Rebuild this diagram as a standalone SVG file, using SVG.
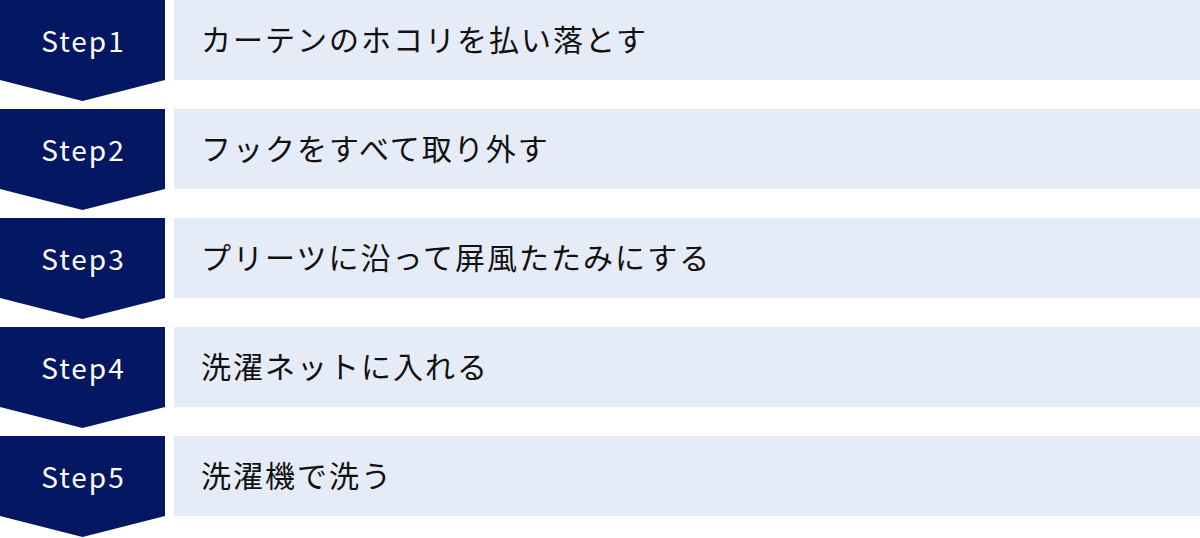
<svg xmlns="http://www.w3.org/2000/svg" width="1200" height="538" viewBox="0 0 1200 538">
<defs>
<style>
.badge{fill:#041762;}
.bar{fill:#e6ebf8;}
.step{font-family:"Noto Sans CJK JP","Noto Sans",sans-serif;font-size:28px;fill:#ffffff;text-anchor:middle;letter-spacing:2px;}
.label{font-family:"Noto Sans CJK JP","Noto Sans",sans-serif;font-size:30px;fill:#111111;letter-spacing:2px;}
</style>
<path id="chev" d="M0 0H165V80L82.5 101L0 80Z"/>
</defs>
<rect width="1200" height="538" fill="#ffffff"/>
<g id="connectors"></g>
<g id="step1">
<use href="#chev" class="badge" y="0"/>
<rect class="bar" x="174" y="0" width="1026" height="80"/>
<text class="step" x="83.5" y="52">Step1</text>
<text class="label" x="201" y="51">カーテンのホコリを払い落とす</text>
</g>
<g id="step2" transform="translate(0,109)">
<use href="#chev" class="badge"/>
<rect class="bar" x="174" y="0" width="1026" height="80"/>
<text class="step" x="83.5" y="52">Step2</text>
<text class="label" x="201" y="51">フックをすべて取り外す</text>
</g>
<g id="step3" transform="translate(0,218)">
<use href="#chev" class="badge"/>
<rect class="bar" x="174" y="0" width="1026" height="80"/>
<text class="step" x="83.5" y="52">Step3</text>
<text class="label" x="201" y="51">プリーツに沿って屏風たたみにする</text>
</g>
<g id="step4" transform="translate(0,327)">
<use href="#chev" class="badge"/>
<rect class="bar" x="174" y="0" width="1026" height="80"/>
<text class="step" x="83.5" y="52">Step4</text>
<text class="label" x="201" y="51">洗濯ネットに入れる</text>
</g>
<g id="step5" transform="translate(0,436)">
<use href="#chev" class="badge"/>
<rect class="bar" x="174" y="0" width="1026" height="80"/>
<text class="step" x="83.5" y="52">Step5</text>
<text class="label" x="201" y="51">洗濯機で洗う</text>
</g>
</svg>
